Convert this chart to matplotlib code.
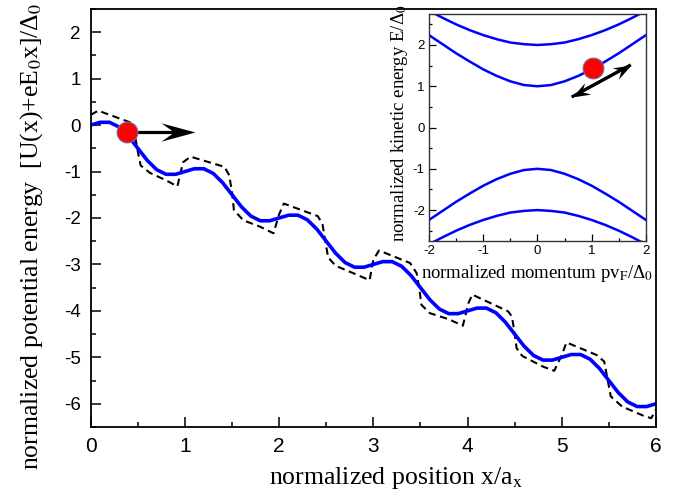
import numpy as np
import matplotlib
matplotlib.use('Agg')
import matplotlib.pyplot as plt
from matplotlib.path import Path
from matplotlib.markers import MarkerStyle
from matplotlib.transforms import Affine2D
from matplotlib.ticker import MultipleLocator

plt.rcParams['font.family'] = ['Liberation Sans', 'DejaVu Sans']
plt.rcParams['mathtext.fontset'] = 'stix'
plt.rcParams['axes.unicode_minus'] = False
SERIF = ['Liberation Serif', 'DejaVu Serif']

# potential curve (blue), x step 0.1
pos_x = [0.0, 0.1, 0.2, 0.3, 0.4, 0.5, 0.6, 0.7, 0.8, 0.9,
         1.0, 1.1, 1.2, 1.3, 1.4, 1.5, 1.6, 1.7, 1.8, 1.9,
         2.0, 2.1, 2.2, 2.3, 2.4, 2.5, 2.6, 2.7, 2.8, 2.9,
         3.0, 3.1, 3.2, 3.3, 3.4, 3.5, 3.6, 3.7, 3.8, 3.9,
         4.0, 4.1, 4.2, 4.3, 4.4, 4.5, 4.6, 4.7, 4.8, 4.9,
         5.0, 5.1, 5.2, 5.3, 5.4, 5.5, 5.6, 5.7, 5.8, 5.9, 6.0]
pot_y = [0.00, 0.06, 0.06, -0.04, -0.24, -0.50, -0.76, -0.96, -1.06, -1.06,
         -1.00, -0.94, -0.94, -1.04, -1.24, -1.50, -1.76, -1.96, -2.06, -2.06,
         -2.00, -1.94, -1.94, -2.04, -2.24, -2.50, -2.76, -2.96, -3.06, -3.06,
         -3.00, -2.94, -2.94, -3.04, -3.24, -3.50, -3.76, -3.96, -4.06, -4.06,
         -4.00, -3.94, -3.94, -4.04, -4.24, -4.50, -4.76, -4.96, -5.06, -5.06,
         -5.00, -4.94, -4.94, -5.04, -5.24, -5.50, -5.76, -5.96, -6.06, -6.06, -6.00]

# dashed curve (read point by point)
dash_x = [0.00, 0.08, 0.43, 0.46, 0.50, 0.53, 0.63, 0.80,
          0.92, 0.98, 1.06, 1.42, 1.47, 1.50, 1.52, 1.62, 1.80,
          1.94, 2.00, 2.05, 2.41, 2.46, 2.49, 2.52, 2.60, 2.80,
          2.96, 3.00, 3.06, 3.39, 3.46, 3.49, 3.51, 3.60, 3.80,
          3.95, 4.01, 4.05, 4.43, 4.47, 4.50, 4.52, 4.58, 4.80,
          4.92, 5.00, 5.05, 5.37, 5.45, 5.48, 5.52, 5.64, 5.88, 5.95, 6.00]
dash_y = [0.22, 0.31, 0.05, -0.12, -0.57, -0.87, -1.03, -1.19,
          -1.32, -0.80, -0.68, -0.90, -1.08, -1.45, -1.83, -2.05, -2.19,
          -2.33, -1.92, -1.69, -1.96, -2.13, -2.50, -2.85, -3.03, -3.20,
          -3.34, -2.90, -2.70, -2.97, -3.19, -3.55, -3.87, -4.05, -4.18,
          -4.32, -3.83, -3.65, -4.01, -4.12, -4.48, -4.80, -4.97, -5.20,
          -5.29, -4.95, -4.68, -4.95, -5.09, -5.41, -5.84, -6.06, -6.27, -6.31, -6.12]

# inset: energy bands vs momentum
mom = [-2.0, -1.75, -1.5, -1.25, -1.0, -0.75, -0.5, -0.25, 0.0,
       0.25, 0.5, 0.75, 1.0, 1.25, 1.5, 1.75, 2.0]
band1 = [2.24, 2.02, 1.80, 1.60, 1.41, 1.25, 1.12, 1.03, 1.00,
         1.03, 1.12, 1.25, 1.41, 1.60, 1.80, 2.02, 2.24]
band2 = [2.83, 2.66, 2.50, 2.36, 2.24, 2.14, 2.06, 2.02, 2.00,
         2.02, 2.06, 2.14, 2.24, 2.36, 2.50, 2.66, 2.83]

# particle + arrows
ball_main = (0.39, -0.15)
arrow_main_tip = (1.11, -0.15)
ball_in = (1.03, 1.45)
arrow_in_a = (0.63, 0.74)
arrow_in_b = (1.72, 1.52)

BLUE = '#0000ff'


def stealth(w):
    return Path([(0, 0), (-1, w), (-0.62, 0), (-1, -w), (0, 0)], closed=True)


def head(axis, tail, tip, length_px, w, lw):
    # shaft + stealth head, angle taken in screen space
    t0 = axis.transData.transform(tail)
    t1 = axis.transData.transform(tip)
    d = t1 - t0
    ang = np.degrees(np.arctan2(d[1], d[0]))
    u = d / np.hypot(*d)
    end = axis.transData.inverted().transform(t1 - u * length_px * 0.55)
    axis.plot([tail[0], end[0]], [tail[1], end[1]], color='k', lw=lw,
              solid_capstyle='butt', zorder=3)
    ms = 2 * length_px * 72 / fig.dpi
    m = MarkerStyle(stealth(w), transform=Affine2D().rotate_deg(ang))
    axis.plot([tip[0]], [tip[1]], marker=m, ms=ms, color='k', mew=0,
              ls='none', zorder=3)


fig = plt.figure(figsize=(6.93, 4.98), dpi=100)
ax = fig.add_axes([0.1309, 0.1426, 0.8157, 0.8394])

ax.plot(dash_x, dash_y, color='k', lw=1.5, ls=(0, (3.5, 2.2)), zorder=2)
ax.plot(pos_x, pot_y, color=BLUE, lw=2.6, zorder=2)

ax.set_xlim(0, 6)
ax.set_ylim(-6.5, 2.5)
ax.xaxis.set_major_locator(MultipleLocator(1))
ax.xaxis.set_minor_locator(MultipleLocator(0.5))
ax.yaxis.set_major_locator(MultipleLocator(1))
ax.yaxis.set_minor_locator(MultipleLocator(0.5))
ax.tick_params(which='both', direction='in', top=False, right=False, width=1.1)
ax.tick_params(which='major', length=7)
ax.tick_params(which='minor', length=3.5)
ax.tick_params(axis='x', labelsize=15, pad=7)
ax.tick_params(axis='y', labelsize=13.5, pad=7)
for s in ax.spines.values():
    s.set_linewidth(1.3)

ax.set_xlabel('normalized position x/a$_{\\rm x}$', family=SERIF, fontsize=18.5)
ax.xaxis.set_label_coords(0.54, -0.09)
ax.set_ylabel('normalized potential energy  [U(x)+eE$_0$x]/\u0394$_0$',
              family=SERIF, fontsize=18.5)
ax.yaxis.set_label_coords(-0.081, 0.455)

head(ax, ball_main, arrow_main_tip, 34, 0.27, 2.3)
ax.plot([ball_main[0]], [ball_main[1]], 'o', ms=15, mfc='red',
        mec='#6a78a8', mew=0.8, zorder=4)

# inset
ax2 = fig.add_axes([0.619, 0.516, 0.3131, 0.4558])
for b in (band1, band2):
    ax2.plot(mom, b, color=BLUE, lw=1.8)
    ax2.plot(mom, [-v for v in b], color=BLUE, lw=1.8)
ax2.set_xlim(-2, 2)
ax2.set_ylim(-2.75, 2.75)
ax2.xaxis.set_major_locator(MultipleLocator(1))
ax2.xaxis.set_minor_locator(MultipleLocator(0.5))
ax2.yaxis.set_major_locator(MultipleLocator(1))
ax2.yaxis.set_minor_locator(MultipleLocator(0.5))
ax2.tick_params(which='both', direction='in', top=False, right=False,
                labelsize=9.5, pad=3, width=0.9)
ax2.tick_params(which='major', length=5)
ax2.tick_params(which='minor', length=2.5)
for s in ax2.spines.values():
    s.set_linewidth(1.0)
    s.set_color('#333333')
ax2.set_xlabel('normalized momentum pv$_{\\rm F}$/\u0394$_0$', family=SERIF,
               fontsize=13.5)
ax2.xaxis.set_label_coords(0.5, -0.095)
ax2.set_ylabel('normalized kinetic energy E/\u0394$_0$', family=SERIF,
               fontsize=13.5)
ax2.yaxis.set_label_coords(-0.088, 0.52)

head(ax2, arrow_in_a, arrow_in_b, 18, 0.36, 2.2)
head(ax2, arrow_in_b, arrow_in_a, 18, 0.36, 2.2)
ax2.plot([ball_in[0]], [ball_in[1]], 'o', ms=15, mfc='red',
         mec='#6a78a8', mew=0.8, zorder=4)

fig.savefig('out.png', dpi=100)
